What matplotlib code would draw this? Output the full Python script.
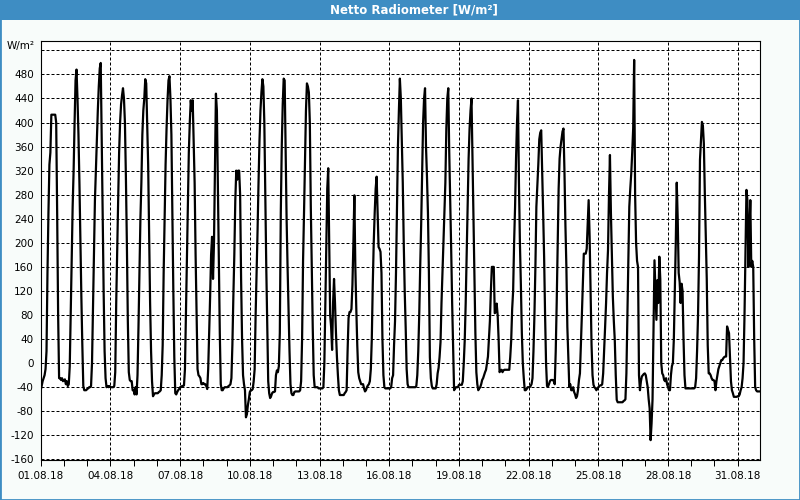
import matplotlib
matplotlib.use("Agg")
import matplotlib.pyplot as plt
import matplotlib.dates as mdates
import pandas as pd
from matplotlib.patches import Rectangle

# stündliche Werte Netto Radiometer, W/m², August 2018
d01 = [-45, -38, -30, -25, -20, -10, 20, 150, 250, 330, 350, 413, 413, 413, 413, 413, 400, 250, 80, -25, -25, -28, -25, -30]
d02 = [-28, -27, -35, -30, -38, -35, -5, 80, 170, 260, 320, 400, 470, 488, 440, 380, 300, 200, 110, 30, -38, -45, -45, -45]
d03 = [-43, -42, -40, -40, -38, 0, 90, 190, 270, 320, 370, 420, 460, 490, 499, 380, 250, 120, 20, -25, -40, -38, -40, -38]
d04 = [-40, -40, -40, -40, -38, -15, 100, 190, 270, 350, 400, 430, 445, 457, 440, 400, 310, 200, 70, -15, -28, -30, -30, -45]
d05 = [-45, -52, -40, -52, -20, 60, 150, 240, 300, 380, 420, 440, 472, 465, 400, 330, 220, 100, 20, -30, -55, -52, -50, -50]
d06 = [-50, -50, -48, -47, -45, -20, 30, 150, 240, 330, 390, 437, 470, 477, 440, 380, 250, 120, 10, -50, -52, -48, -45, -43]
d07 = [-40, -40, -38, -38, -37, -10, 80, 170, 270, 350, 400, 437, 420, 437, 370, 300, 180, 80, -10, -20, -22, -25, -35, -35]
d08 = [-33, -35, -35, -38, -43, -10, 50, 110, 180, 210, 140, 200, 320, 448, 420, 300, 170, 50, -35, -45, -45, -42, -40, -40]
d09 = [-40, -40, -38, -37, -35, -25, 30, 110, 180, 270, 320, 305, 320, 320, 280, 140, 40, -20, -35, -45, -90, -85, -70, -60]
d10 = [-48, -45, -45, -43, -30, -10, 80, 150, 220, 300, 370, 420, 450, 472, 460, 400, 280, 160, 60, -30, -50, -58, -55, -50]
d11 = [-48, -48, -47, -20, -12, -15, -5, 50, 250, 360, 430, 473, 470, 360, 240, 160, 90, 20, -35, -50, -53, -53, -48, -47]
d12 = [-47, -47, -47, -47, -45, -30, 40, 170, 250, 340, 420, 465, 460, 450, 400, 260, 160, 60, -20, -40, -40, -40, -40, -42]
d13 = [-42, -42, -42, -42, -40, 0, 100, 200, 290, 324, 200, 80, 60, 22, 100, 140, 100, 50, 10, -20, -45, -53, -53, -53]
d14 = [-53, -53, -50, -48, -45, 20, 75, 85, 85, 90, 130, 200, 279, 160, 90, 30, -15, -25, -30, -35, -35, -35, -42, -47]
d15 = [-45, -40, -37, -35, -30, -10, 40, 130, 200, 250, 290, 310, 250, 193, 190, 185, 150, 40, -20, -40, -42, -42, -42, -42]
d16 = [-42, -42, -40, -25, -20, 30, 70, 150, 250, 360, 420, 473, 440, 370, 300, 200, 120, 60, -10, -35, -40, -40, -40, -40]
d17 = [-40, -40, -40, -40, -38, -20, 20, 80, 160, 230, 320, 400, 440, 457, 360, 310, 250, 150, 10, -25, -38, -42, -42, -42]
d18 = [-42, -35, -17, -8, 10, 35, 100, 150, 200, 250, 300, 390, 440, 457, 350, 270, 190, 100, 30, -45, -42, -40, -40, -40]
d19 = [-36, -36, -36, -36, -30, 0, 38, 100, 180, 260, 340, 390, 420, 440, 340, 240, 130, 50, -15, -35, -45, -42, -40, -35]
d20 = [-28, -25, -20, -15, -11, 0, 11, 40, 70, 120, 160, 160, 160, 83, 85, 99, 80, 40, -15, -12, -11, -15, -12, -11]
d21 = [-11, -11, -11, -11, -11, 10, 38, 90, 120, 200, 260, 340, 400, 437, 300, 200, 130, 50, 0, -25, -45, -45, -43, -40]
d22 = [-40, -40, -38, -35, -25, 20, 80, 160, 260, 295, 330, 372, 383, 387, 320, 250, 177, 80, 0, -38, -39, -35, -30, -28]
d23 = [-28, -28, -30, -35, 20, 100, 200, 290, 340, 360, 372, 385, 390, 320, 230, 160, 60, 10, -39, -35, -45, -45, -40, -48]
d24 = [-52, -58, -55, -45, -28, -17, 30, 80, 130, 182, 182, 182, 190, 230, 271, 210, 120, 30, -20, -36, -40, -42, -45, -42]
d25 = [-40, -38, -37, -37, -35, -17, 20, 60, 100, 150, 188, 280, 346, 250, 177, 110, 70, 38, -20, -61, -65, -65, -65, -65]
d26 = [-65, -65, -63, -62, -60, -17, 80, 170, 260, 290, 315, 350, 390, 504, 280, 200, 170, 160, -20, -45, -30, -22, -20, -18]
d27 = [-17, -20, -30, -40, -60, -75, -128, -100, -60, 60, 171, 120, 72, 138, 100, 177, 140, 0, -17, -20, -28, -30, -25, -35]
d28 = [-40, -45, -45, -20, -5, 0, 40, 120, 200, 300, 240, 150, 135, 100, 132, 120, 40, -20, -42, -42, -42, -42, -42, -42]
d29 = [-42, -42, -42, -42, -40, -25, 20, 80, 177, 338, 371, 401, 395, 365, 282, 210, 140, 30, -17, -17, -20, -25, -28, -28]
d30 = [-30, -45, -30, -20, -10, -5, 0, 5, 5, 8, 10, 11, 11, 61, 55, 50, 11, -30, -45, -50, -56, -56, -56, -56]
d31 = [-55, -55, -52, -45, -40, -25, 0, 80, 180, 288, 270, 160, 220, 271, 160, 170, 160, 40, -40, -45, -47, -47, -47, -47]

werte = (d01 + d02 + d03 + d04 + d05 + d06 + d07 + d08 + d09 + d10 + d11 + d12 + d13 + d14 + d15 + d16
         + d17 + d18 + d19 + d20 + d21 + d22 + d23 + d24 + d25 + d26 + d27 + d28 + d29 + d30 + d31)
zeit = pd.date_range("2018-08-01", periods=len(werte), freq="h")

y_ticks = list(range(-160, 521, 40))
y_labels = [str(v) for v in y_ticks[:-1]] + [""]

blau = "#3E8DC3"

fig = plt.figure(figsize=(8, 5), dpi=100, facecolor="#F8FCFA")
# Titelleiste + Rahmen
fig.patches.append(Rectangle((0, 1 - 20 / 500), 1, 20 / 500, transform=fig.transFigure,
                             facecolor=blau, edgecolor="none", zorder=0))
fig.patches.append(Rectangle((0, 0), 1, 1, transform=fig.transFigure, fill=False,
                             edgecolor=blau, linewidth=2, zorder=0))
fig.text(414 / 800, 1 - 10 / 500, "Netto Radiometer [W/m²]", color="white",
         fontweight="bold", fontsize=8.5, ha="center", va="center")
fig.text(35 / 800, 1 - 46 / 500, "W/m²", fontsize=7.5, ha="right", va="center")

ax = fig.add_axes([40.7 / 800, 40 / 500, (760 - 40.7) / 800, (460 - 40.7) / 500])
ax.set_facecolor("white")
ax.plot(zeit, werte, color="black", linewidth=1.6)

ax.set_xlim(zeit[0], zeit[-1])
ax.set_ylim(-161, 536)
ax.set_yticks(y_ticks)
ax.set_yticklabels(y_labels)

ax.xaxis.set_major_locator(mdates.DayLocator(bymonthday=range(1, 32, 3)))
ax.xaxis.set_minor_locator(mdates.DayLocator())
ax.xaxis.set_major_formatter(mdates.DateFormatter("%d.%m.%y"))

ax.grid(True, which="major", color="black", linestyle=(0, (3, 2)), linewidth=0.72)
ax.tick_params(axis="y", length=0, pad=5, labelsize=7.5)
ax.tick_params(axis="x", which="both", length=4, width=0.72, direction="out", pad=4, labelsize=7.5)
for s in ax.spines.values():
    s.set_linewidth(0.8)

fig.savefig("out.png", dpi=100, facecolor=fig.get_facecolor())
